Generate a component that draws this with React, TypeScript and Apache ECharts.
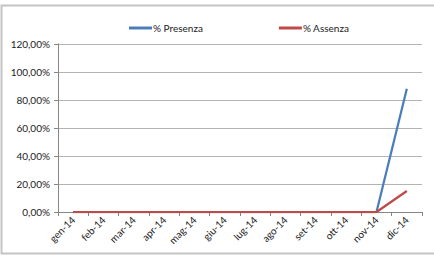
import React, { useEffect, useRef } from "react";
import * as echarts from "echarts";

const categories = ["gen-14", "feb-14", "mar-14", "apr-14", "mag-14", "giu-14", "lug-14", "ago-14", "set-14", "ott-14", "nov-14", "dic-14"];
const presenza = [0, 0, 0, 0, 0, 0, 0, 0, 0, 0, 0, 88];
const assenza = [0, 0, 0, 0, 0, 0, 0, 0, 0, 0, 0, 15];
const yTicks = { min: 0, max: 120, interval: 20 };

const FONT = "Lato, 'Open Sans', sans-serif";

export default function App() {
  const ref = useRef<HTMLDivElement>(null);
  useEffect(() => {
    if (!ref.current) return;
    const chart = echarts.init(ref.current, null, { renderer: "svg" });
    chart.setOption({
      animation: false,
      textStyle: { fontFamily: FONT },
      graphic: [
        {
          type: "polyline",
          shape: { points: [[440, 5.5], [1.5, 5.5], [1.5, 253.5], [440, 253.5]] },
          style: { stroke: "#c4c4c4", lineWidth: 2, fill: "none" },
          silent: true,
        },
      ],
      legend: {
        left: 124,
        top: 18,
        itemWidth: 23,
        itemHeight: 3,
        itemGap: 76,
        icon: "rect",
        textStyle: { fontSize: 10, color: "#222", fontFamily: FONT, padding: [0, 0, 0, -4] },
        data: ["% Presenza", "% Assenza"],
      },
      grid: { left: 58, right: 12, top: 44, bottom: 47 },
      xAxis: {
        type: "category",
        data: categories,
        boundaryGap: true,
        axisLine: { lineStyle: { color: "#868686", width: 1 } },
        axisTick: { show: true, length: 4, lineStyle: { color: "#868686" } },
        axisLabel: { rotate: 45, fontSize: 10, color: "#222", margin: 6, interval: 0, fontFamily: FONT },
      },
      yAxis: {
        type: "value",
        min: yTicks.min,
        max: yTicks.max,
        interval: yTicks.interval,
        axisLine: { show: true, lineStyle: { color: "#868686", width: 1 } },
        axisTick: { show: true, length: 4, lineStyle: { color: "#868686" } },
        splitLine: { show: true, lineStyle: { color: "#b4b4b4", width: 1 } },
        axisLabel: {
          fontSize: 10,
          color: "#222",
          margin: 8,
          fontFamily: FONT,
          formatter: (v: number) => v.toFixed(2).replace(".", ",") + "%",
        },
      },
      series: [
        {
          name: "% Presenza",
          type: "line",
          data: presenza,
          showSymbol: false,
          symbol: "none",
          lineStyle: { color: "#4a7ebb", width: 2.25 },
          itemStyle: { color: "#4a7ebb" },
        },
        {
          name: "% Assenza",
          type: "line",
          data: assenza,
          showSymbol: false,
          symbol: "none",
          lineStyle: { color: "#be4b48", width: 2.25 },
          itemStyle: { color: "#be4b48" },
        },
      ],
    });
    return () => chart.dispose();
  }, []);
  return (
    <div
      ref={ref}
      style={{ position: "fixed", left: 0, top: 0, width: 434, height: 259, background: "#fff" }}
    />
  );
}
